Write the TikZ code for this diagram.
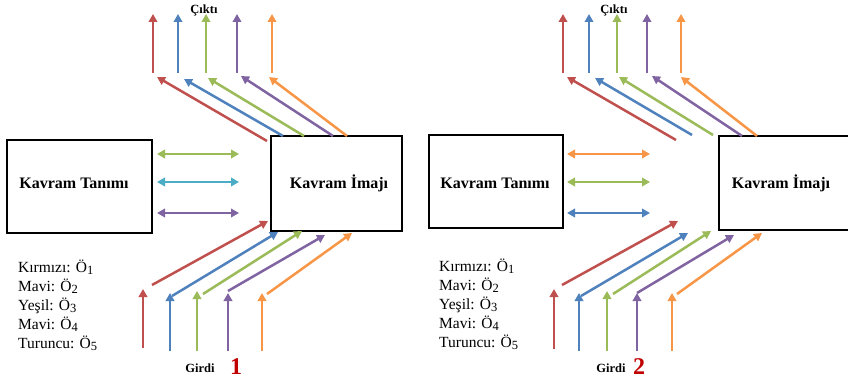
\documentclass[tikz,border=0pt]{standalone}
\usepackage{fontspec}
\setmainfont{Liberation Serif}
\usetikzlibrary{arrows.meta}
\definecolor{cR}{HTML}{C0504D}
\definecolor{cB}{HTML}{4F81BD}
\definecolor{cG}{HTML}{9BBB59}
\definecolor{cP}{HTML}{8064A2}
\definecolor{cO}{HTML}{F79646}
\definecolor{cC}{HTML}{4BACC6}
\definecolor{cNum}{HTML}{C00000}
\newcommand\subd[1]{\raisebox{-2.2pt}{\fontsize{12.5}{12.5}\selectfont #1}}
\tikzset{
  arr/.style={line width=2.5pt,-{Triangle[length=8pt,width=8.5pt]}},
  darr/.style={line width=2.5pt,{Triangle[length=8pt,width=8.5pt]}-{Triangle[length=8pt,width=8.5pt]}},
  bigbox/.style={draw,line width=2.6pt,inner sep=0pt},
  boxtext/.style={font=\fontsize{16}{16}\selectfont\bfseries,inner sep=0pt},
  legend/.style={font=\fontsize{15.5}{15.5}\selectfont,anchor=base west,inner sep=0pt},
  small/.style={font=\fontsize{12.5}{12.5}\selectfont\bfseries,inner sep=0pt},
  num/.style={font=\fontsize{24}{24}\selectfont\bfseries,text=cNum,inner sep=0pt}
}
\begin{document}
\begin{tikzpicture}[x=1pt,y=-1pt]
\useasboundingbox (0,0) rectangle (848,382);
\clip (0,0) rectangle (848,382);

% ---------- Panel 1 ----------
\node[bigbox,minimum width=145pt,minimum height=93pt] (L1) at (79.5,186.5) {};
\node[boxtext] (L1t) at (74,183) {Kavram Tanımı};
\node[bigbox,minimum width=131pt,minimum height=95pt] (R1) at (336.5,183.5) {};
\node[boxtext] (R1t) at (339,183) {Kavram İmajı};

\node[small] (out1) at (204,10) {Çıktı};
\node[small] (in1) at (200,368) {Girdi};
\node[num] (n1) at (236,367) {1};

\foreach \i/\c/\y in {1/cG/154,2/cC/182,3/cP/213}{
  \coordinate (d1\i a) at (157,\y); \coordinate (d1\i b) at (239,\y);
  \draw[darr,color=\c] (d1\i a) -- (d1\i b);
}
\foreach \i/\c/\x in {1/cR/153,2/cB/178,3/cG/206,4/cP/237,5/cO/272}{
  \coordinate (ov1\i a) at (\x,73); \coordinate (ov1\i b) at (\x,14);
  \draw[arr,color=\c] (ov1\i a) -- (ov1\i b);
}
\foreach \i/\c/\xa/\ya/\xb/\yb in {1/cR/267/141/157/77,2/cB/283/136/184/79,3/cG/304/136/208/78,4/cP/333/136/241/76,5/cO/347/136/269/77}{
  \coordinate (od1\i a) at (\xa,\ya); \coordinate (od1\i b) at (\xb,\yb);
  \draw[arr,color=\c] (od1\i a) -- (od1\i b);
}
\foreach \i/\c/\x/\ya/\yb in {1/cR/143/348/289,2/cB/170/351/293,3/cG/197/351/291,4/cP/228/351/293,5/cO/262/351/293}{
  \coordinate (iv1\i a) at (\x,\ya); \coordinate (iv1\i b) at (\x,\yb);
  \draw[arr,color=\c] (iv1\i a) -- (iv1\i b);
}
\foreach \i/\c/\xa/\ya/\xb/\yb in {1/cR/152/285/268/221,2/cB/172/296/278/232,3/cG/203/294/302/231,4/cP/228/291/325/235,5/cO/267/294/352/233}{
  \coordinate (id1\i a) at (\xa,\ya); \coordinate (id1\i b) at (\xb,\yb);
  \draw[arr,color=\c] (id1\i a) -- (id1\i b);
}
\node[legend] (g11) at (18,272) {Kırmızı: Ö\subd{1}};
\node[legend] (g12) at (18,291) {Mavi: Ö\subd{2}};
\node[legend] (g13) at (18,310) {Yeşil: Ö\subd{3}};
\node[legend] (g14) at (18,329) {Mavi: Ö\subd{4}};
\node[legend] (g15) at (18,348) {Turuncu: Ö\subd{5}};

% ---------- Panel 2 ----------
\node[bigbox,minimum width=134pt,minimum height=93pt] (L2) at (496,181.5) {};
\node[boxtext] (L2t) at (495,183) {Kavram Tanımı};
\node[bigbox,minimum width=141pt,minimum height=94pt] (R2) at (789.5,183) {};
\node[boxtext] (R2t) at (781,183) {Kavram İmajı};

\node[small] (out2) at (614,10) {Çıktı};
\node[small] (in2) at (611,368) {Girdi};
\node[num] (n2) at (639,367) {2};

\foreach \i/\c/\y in {1/cO/154,2/cG/182,3/cB/213}{
  \coordinate (d2\i a) at (567,\y); \coordinate (d2\i b) at (650,\y);
  \draw[darr,color=\c] (d2\i a) -- (d2\i b);
}
\foreach \i/\c/\x in {1/cR/563,2/cB/589,3/cG/617,4/cP/647,5/cO/681}{
  \coordinate (ov2\i a) at (\x,73); \coordinate (ov2\i b) at (\x,14);
  \draw[arr,color=\c] (ov2\i a) -- (ov2\i b);
}
\foreach \i/\c/\xa/\ya/\xb/\yb in {1/cR/676/140/567/77,2/cB/692/135/595/78,3/cG/713/135/619/77,4/cP/742/136/652/76,5/cO/757/136/681/77}{
  \coordinate (od2\i a) at (\xa,\ya); \coordinate (od2\i b) at (\xb,\yb);
  \draw[arr,color=\c] (od2\i a) -- (od2\i b);
}
\foreach \i/\c/\x/\ya/\yb in {1/cR/554/349/289,2/cB/579/351/293,3/cG/607/351/291,4/cP/637/351/293,5/cO/672/351/293}{
  \coordinate (iv2\i a) at (\x,\ya); \coordinate (iv2\i b) at (\x,\yb);
  \draw[arr,color=\c] (iv2\i a) -- (iv2\i b);
}
\foreach \i/\c/\xa/\ya/\xb/\yb in {1/cR/562/285/678/221,2/cB/581/296/688/233,3/cG/613/294/711/231,4/cP/637/293/734/235,5/cO/677/294/762/233}{
  \coordinate (id2\i a) at (\xa,\ya); \coordinate (id2\i b) at (\xb,\yb);
  \draw[arr,color=\c] (id2\i a) -- (id2\i b);
}
\node[legend] (g21) at (439,271) {Kırmızı: Ö\subd{1}};
\node[legend] (g22) at (439,290) {Mavi: Ö\subd{2}};
\node[legend] (g23) at (439,309) {Yeşil: Ö\subd{3}};
\node[legend] (g24) at (439,328) {Mavi: Ö\subd{4}};
\node[legend] (g25) at (439,347) {Turuncu: Ö\subd{5}};
\end{tikzpicture}
\end{document}
